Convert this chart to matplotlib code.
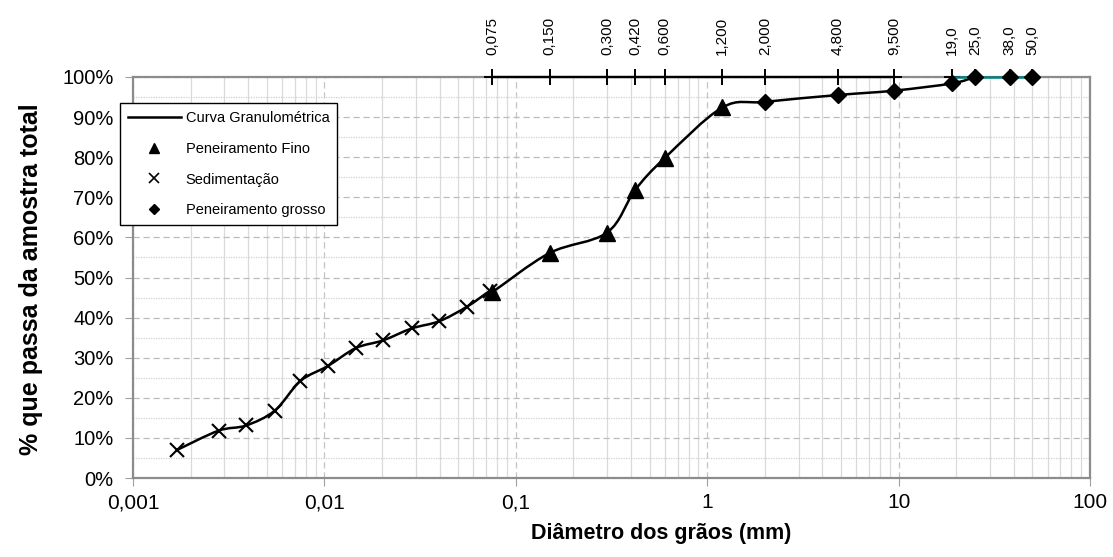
import numpy as np
import matplotlib.pyplot as plt
from matplotlib.path import Path
from matplotlib.patches import PathPatch
from matplotlib.lines import Line2D
from matplotlib.ticker import LogLocator, MultipleLocator, FuncFormatter

plt.rcParams['font.family'] = ['Liberation Sans', 'DejaVu Sans']

# sedimentacao
sed_d = [0.0017, 0.0028, 0.0039, 0.0055, 0.0075, 0.0104, 0.0146, 0.0202, 0.0286, 0.0398, 0.0555, 0.073]
sed_p = [7.0, 11.8, 13.1, 16.8, 24.2, 27.9, 32.4, 34.3, 37.3, 39.1, 42.7, 46.6]
# peneiramento fino
fino_d = [0.075, 0.15, 0.3, 0.42, 0.6, 1.2]
fino_p = [46.3, 56.1, 61.2, 71.8, 79.8, 92.4]
# peneiramento grosso
grosso_d = [2.0, 4.8, 9.5, 19.0, 25.0, 38.0, 50.0]
grosso_p = [93.8, 95.5, 96.6, 98.4, 100.0, 100.0, 100.0]
# peneiras (topo)
peneiras = [0.075, 0.150, 0.300, 0.420, 0.600, 1.200, 2.000, 4.800, 9.500, 19.0, 25.0, 38.0, 50.0]
peneiras_txt = ['0,075', '0,150', '0,300', '0,420', '0,600', '1,200', '2,000',
                '4,800', '9,500', '19,0', '25,0', '38,0', '50,0']

W, H = 1113, 557
fig = plt.figure(figsize=(W / 100, H / 100), dpi=100)
ax = fig.add_axes([133 / W, 1 - 478 / H, (1090 - 133) / W, (478 - 77) / H])
ax.set_xscale('log')
ax.set_xlim(0.001, 100)
ax.set_ylim(0, 100)

# curva suavizada (bezier tipo excel), pontos de controle em espaco de tela
cx = np.array(sed_d + fino_d + grosso_d[:5])
cy = np.array(sed_p + fino_p + grosso_p[:5])
sx, sy = 191.4, 4.01
u = np.log10(cx) * sx
v = cy * sy
verts = [(cx[0], cy[0])]
codes = [Path.MOVETO]
n = len(u)
for i in range(n - 1):
    i0 = max(i - 1, 0)
    i3 = min(i + 2, n - 1)
    c1u = u[i] + (u[i + 1] - u[i0]) / 6
    c1v = v[i] + (v[i + 1] - v[i0]) / 6
    c2u = u[i + 1] - (u[i3] - u[i]) / 6
    c2v = v[i + 1] - (v[i3] - v[i]) / 6
    verts += [(10 ** (c1u / sx), c1v / sy), (10 ** (c2u / sx), c2v / sy), (cx[i + 1], cy[i + 1])]
    codes += [Path.CURVE4] * 3
curve = PathPatch(Path(verts, codes), fill=False, ec='black', lw=1.8, zorder=4, clip_on=False)
ax.add_patch(curve)

# linha das peneiras no topo
ax.plot(peneiras[:9], [100] * 9, color='black', lw=1.7, marker='+', ms=12, mew=1.4,
        zorder=5, clip_on=False)
ax.plot(peneiras[9:], [100] * 4, ls='none', color='black', marker='+', ms=12, mew=1.4,
        zorder=5, clip_on=False)
ax.plot([19.0, 50.0], [100, 100], color='#008080', lw=1.8, zorder=5, clip_on=False)
for d, t in zip(peneiras, peneiras_txt):
    ax.annotate(t, xy=(d, 100), xytext=(0, 16), textcoords='offset points',
                rotation=90, ha='center', va='bottom', fontsize=11, annotation_clip=False)

ax.plot(sed_d, sed_p, ls='none', marker='x', ms=10, mew=1.5, color='black', zorder=6)
ax.plot(fino_d, fino_p, ls='none', marker='^', ms=11, color='black', zorder=6)
ax.plot(grosso_d, grosso_p, ls='none', marker='D', ms=8.5, color='black', zorder=6,
        clip_on=False)

# grades
ax.xaxis.set_major_locator(LogLocator(base=10, numticks=10))
ax.xaxis.set_minor_locator(LogLocator(base=10, subs=np.arange(2, 10), numticks=20))
ax.yaxis.set_major_locator(MultipleLocator(10))
ax.yaxis.set_minor_locator(MultipleLocator(5))
ax.grid(which='major', axis='x', ls=(0, (5, 3)), color='#c4c4c4', lw=0.9)
ax.grid(which='minor', axis='x', ls='-', color='#dadada', lw=0.9)
ax.grid(which='major', axis='y', ls=(0, (5, 3)), color='#bcbcbc', lw=0.9)
ax.grid(which='minor', axis='y', ls=(0, (1, 1)), color='#d0d0d0', lw=0.9)
ax.set_axisbelow(True)

ax.xaxis.set_major_formatter(FuncFormatter(lambda v, p: f'{v:g}'.replace('.', ',')))
ax.yaxis.set_major_formatter(FuncFormatter(lambda v, p: f'{v:.0f}%'))
ax.tick_params(which='minor', length=0)
ax.tick_params(which='major', direction='out', length=6, color='#a0a0a0', pad=5)
ax.tick_params(axis='x', labelsize=15)
ax.tick_params(axis='y', labelsize=14.5, pad=8)
for s in ax.spines.values():
    s.set_color('#8c8c8c')
    s.set_linewidth(1.6)

ax.set_xlabel('Diâmetro dos grãos (mm)', fontsize=15.5, fontweight='bold', va='center')
ax.xaxis.set_label_coords((661 - 133) / 957, (478 - 533) / 401)
ax.set_ylabel('% que passa da amostra total', fontsize=18, fontweight='bold', va='center')
ax.yaxis.set_label_coords((31 - 133) / 957, (478 - 279) / 401)

handles = [Line2D([], [], color='black', lw=1.8),
           Line2D([], [], ls='none', marker='^', ms=6.5, color='black'),
           Line2D([], [], ls='none', marker='x', ms=6.5, mew=1.2, color='black'),
           Line2D([], [], ls='none', marker='D', ms=5.5, color='black')]
labels = ['Curva Granulométrica', 'Peneiramento Fino', 'Sedimentação', 'Peneiramento grosso']
leg = fig.legend(handles, labels, loc='upper left', bbox_to_anchor=(120 / W, 1 - 103 / H),
                 bbox_transform=fig.transFigure, borderaxespad=0, fancybox=False,
                 edgecolor='black', framealpha=1, fontsize=10.5, labelspacing=1.15,
                 handlelength=3.6, handletextpad=0.35, borderpad=0.55)
leg.get_frame().set_linewidth(1.0)
leg.set_zorder(10)

fig.savefig('out.png', dpi=100)
